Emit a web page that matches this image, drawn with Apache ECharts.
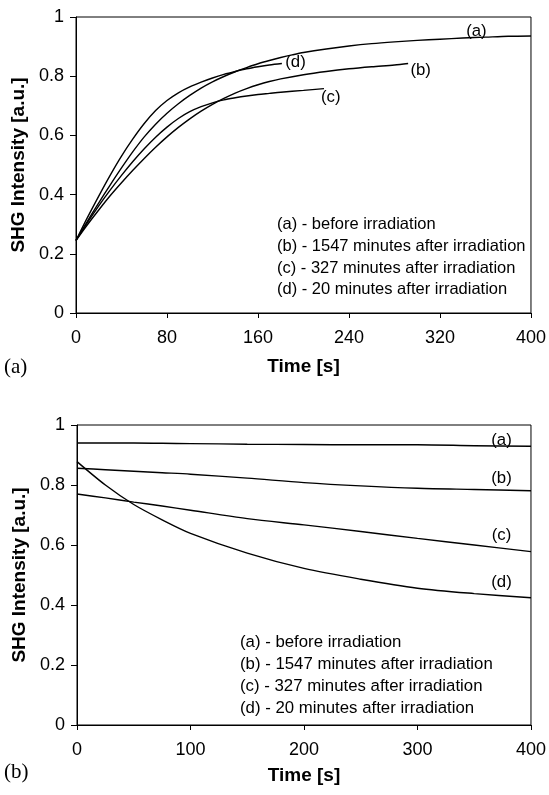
<!DOCTYPE html>
<html>
<head>
<meta charset="utf-8">
<script src="https://cdn.jsdelivr.net/npm/echarts@6/dist/echarts.min.js"></script>
<style>
html,body{margin:0;padding:0;background:#fff;}
#chart{width:549px;height:795px;}
</style>
</head>
<body>
<div id="chart"></div>
<script>
// ---- Panel (a): SHG build-up, time [s] and intensity [a.u.] ----
var topTimeA = [0,10,20,30,40,50,60,70,80,90,100,110,120,130,140,150,160,170,180,190,200,220,240,260,280,300,320,340,360,380,400];
var topA     = [0.245,0.310,0.372,0.432,0.490,0.545,0.595,0.638,0.675,0.707,0.735,0.760,0.781,0.799,0.815,0.829,0.842,0.853,0.863,0.872,0.880,0.892,0.902,0.910,0.916,0.921,0.925,0.929,0.932,0.935,0.936];
var topTimeB = [0,10,20,30,40,50,60,70,80,90,100,110,120,130,140,150,160,170,180,200,220,240,260,280,292];
var topB     = [0.245,0.298,0.348,0.396,0.440,0.482,0.522,0.560,0.595,0.627,0.656,0.682,0.705,0.725,0.743,0.758,0.771,0.782,0.791,0.805,0.816,0.825,0.832,0.838,0.843];
var topTimeC = [0,10,20,30,40,50,60,70,80,90,100,110,120,130,140,150,160,170,180,200,218];
var topC     = [0.245,0.305,0.362,0.415,0.465,0.512,0.555,0.594,0.628,0.657,0.680,0.697,0.710,0.720,0.727,0.733,0.738,0.742,0.746,0.752,0.758];
var topTimeD = [0,10,20,30,40,50,60,70,80,90,100,110,120,130,140,150,160,170,181];
var topD     = [0.245,0.322,0.395,0.465,0.530,0.588,0.640,0.684,0.718,0.744,0.764,0.780,0.794,0.806,0.816,0.825,0.832,0.838,0.843];

// ---- Panel (b): SHG decay ----
var botTime = [0,25,50,75,100,150,200,250,300,350,400];
var botA    = [0.940,0.940,0.940,0.939,0.938,0.936,0.935,0.934,0.934,0.931,0.929];
var botB    = [0.856,0.851,0.846,0.841,0.836,0.823,0.808,0.797,0.789,0.785,0.781];
var botC    = [0.770,0.757,0.743,0.730,0.716,0.688,0.667,0.645,0.622,0.600,0.578];
var botD    = [0.878,0.800,0.735,0.684,0.639,0.573,0.522,0.486,0.456,0.438,0.424];

// ---- Texts ----
var curveNames  = ['(a)','(b)','(c)','(d)'];
var legendLines = ['(a) - before irradiation','(b) - 1547 minutes after irradiation','(c) - 327 minutes after irradiation','(d) - 20 minutes after irradiation'];
var panelNames  = ['(a)','(b)'];
var xName = 'Time [s]';
var yName = 'SHG Intensity [a.u.]';
// label anchors in data units [time, intensity]
var topLabelAt = [[352,0.951],[303,0.820],[224,0.729],[193,0.847]];
var botLabelAt = [[374,0.950],[374,0.823],[374,0.633],[374,0.477]];

function zip(t, v){ return t.map(function(x,i){ return [x, v[i]]; }); }

var FONT = 'Liberation Sans';

function lineSeries(xi, t, v, name, at){
  return {
    type:'line', xAxisIndex:xi, yAxisIndex:xi, data: zip(t,v),
    showSymbol:false, smooth:0.3, animation:false,
    lineStyle:{color:'#000', width:1.4},
    markPoint:{
      symbol:'circle', symbolSize:0, animation:false,
      label:{show:true, position:'inside', color:'#000', fontFamily:FONT, fontSize:16.8,
             formatter:function(){ return name; }},
      data:[{coord:at, value:name}]
    }
  };
}

function xAxisCfg(gi, interval, gap){
  return {
    type:'value', gridIndex:gi, min:0, max:400, interval:interval,
    axisLine:{show:true, lineStyle:{color:'#000', width:1}},
    axisTick:{show:true, inside:false, length:5, lineStyle:{color:'#000'}},
    axisLabel:{color:'#000', fontSize:18, fontFamily:FONT, margin:16},
    splitLine:{show:false},
    name:xName, nameLocation:'middle', nameGap:gap,
    nameTextStyle:{color:'#000', fontSize:19, fontWeight:'bold', fontFamily:FONT}
  };
}
function yAxisCfg(gi){
  return {
    type:'value', gridIndex:gi, min:0, max:1, interval:0.2,
    axisLine:{show:true, lineStyle:{color:'#000', width:1}},
    axisTick:{show:true, inside:false, length:6, lineStyle:{color:'#000'}},
    axisLabel:{color:'#000', fontSize:18, fontFamily:FONT, margin:12},
    splitLine:{show:false},
    name:yName, nameLocation:'middle', nameGap:28, nameRotate:90,
    nameTextStyle:{color:'#000', fontSize:19, fontWeight:'bold', fontFamily:FONT}
  };
}

var chart = echarts.init(document.getElementById('chart'), null, {renderer:'canvas'});
var series = [];
[topA,topB,topC,topD].forEach(function(v,i){
  var ts = [topTimeA,topTimeB,topTimeC,topTimeD][i];
  series.push(lineSeries(0, ts, v, curveNames[i], topLabelAt[i]));
});
[botA,botB,botC,botD].forEach(function(v,i){
  series.push(lineSeries(1, botTime, v, curveNames[i], botLabelAt[i]));
});

chart.setOption({
  backgroundColor:'#fff',
  animation:false,
  textStyle:{fontFamily:FONT},
  grid:[
    {left:76, top:17, width:457, height:296, show:true, borderColor:'#000', borderWidth:1, backgroundColor:'transparent'},
    {left:77, top:425, width:459, height:300, show:true, borderColor:'#000', borderWidth:1, backgroundColor:'transparent'}
  ],
  xAxis:[xAxisCfg(0,80,44), xAxisCfg(1,100,41)],
  yAxis:[yAxisCfg(0), yAxisCfg(1)],
  series:series,
  graphic:[
    {type:'text', left:277, top:214, silent:true,
     style:{text:legendLines.join('\n'), font:'16.5px "Liberation Sans"', lineHeight:21.7, fill:'#000'}},
    {type:'text', left:240, top:631, silent:true,
     style:{text:legendLines.join('\n'), font:'16.8px "Liberation Sans"', lineHeight:22.2, fill:'#000'}},
    {type:'text', left:4, top:357, silent:true,
     style:{text:panelNames[0], font:'21px "Liberation Serif"', fill:'#000'}},
    {type:'text', left:4, top:762, silent:true,
     style:{text:panelNames[1], font:'21px "Liberation Serif"', fill:'#000'}}
  ]
});
</script>
</body>
</html>
